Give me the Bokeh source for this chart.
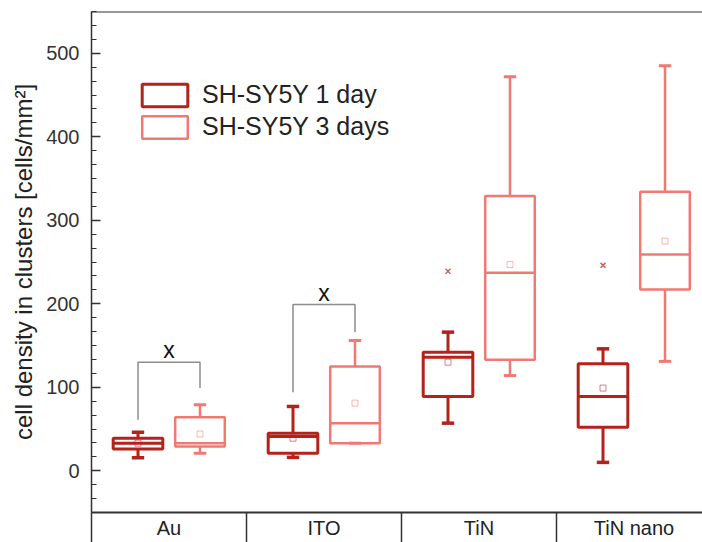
from bokeh.plotting import figure
from bokeh.models import (Range1d, FixedTicker, SingleIntervalTicker, Legend,
                          LegendItem, Span, ColumnDataSource)
from bokeh.embed import file_html
from bokeh.resources import INLINE
from bokeh.core.properties import value

# ---------------- data ----------------
categories = ["Au", "ITO", "TiN", "TiN nano"]

# SH-SY5Y 1 day
d1_low = [15.5, 16, 57, 10]
d1_q1 = [26, 21, 89, 52]
d1_med = [33, 41, 136, 89]
d1_q3 = [39, 45, 142, 128]
d1_high = [46, 77, 166, 146]
d1_mean = [33, 39, 130, 99]
d1_out = [None, None, 239, 246]

# SH-SY5Y 3 days
d3_low = [21, 33, 114, 131]
d3_q1 = [29, 33, 133, 217]
d3_med = [33, 57, 237, 259]
d3_q3 = [64, 125, 329, 334]
d3_high = [79, 156, 472, 485]
d3_mean = [44, 81, 247, 275]

# significance brackets
sig_cats = ["Au", "ITO"]
sig_left_bottom = [61, 94]
sig_right_bottom = [99, 166]
sig_top = [130, 199]
sig_label = ["x", "x"]

series_labels = ["SH-SY5Y 1 day", "SH-SY5Y 3 days"]
y_ticks_interval = 100

# ---------------- style ----------------
DARK = "#b5211b"
LIGHT = "#f07a72"
FONT = "Liberation Sans"
OFF = 0.2
HALF_W = 0.16
CAP = 0.04

centers = [i + 0.5 for i in range(len(categories))]

p = figure(width=702, height=542, output_backend="svg", toolbar_location=None,
           x_range=Range1d(0, 611 / 155), y_range=Range1d(-50, 550),
           min_border_left=91, min_border_right=0, min_border_top=11,
           min_border_bottom=30)
p.outline_line_color = None
p.grid.visible = False
p.background_fill_color = "white"
p.border_fill_color = "white"


def draw_series(low, q1, med, q3, high, mean, shift, color, lw):
    xs = [c + shift for c in centers]
    src = ColumnDataSource(dict(
        x=xs, left=[x - HALF_W for x in xs], right=[x + HALF_W for x in xs],
        low=low, q1=q1, med=med, q3=q3, high=high, mean=mean,
        cl=[x - CAP for x in xs], cr=[x + CAP for x in xs]))
    box = p.quad(left="left", right="right", bottom="q1", top="q3", source=src,
                 fill_alpha=0, line_color=color, line_width=lw)
    p.segment(x0="left", x1="right", y0="med", y1="med", source=src,
              line_color=color, line_width=lw)
    p.segment(x0="x", x1="x", y0="q3", y1="high", source=src,
              line_color=color, line_width=lw)
    p.segment(x0="x", x1="x", y0="q1", y1="low", source=src,
              line_color=color, line_width=lw)
    p.segment(x0="cl", x1="cr", y0="high", y1="high", source=src,
              line_color=color, line_width=lw + 0.5)
    p.segment(x0="cl", x1="cr", y0="low", y1="low", source=src,
              line_color=color, line_width=lw + 0.5)
    p.scatter(x="x", y="mean", source=src, marker="square", size=6,
              fill_alpha=0, line_color=color, line_alpha=0.55, line_width=1)
    return box, xs


box1, xs1 = draw_series(d1_low, d1_q1, d1_med, d1_q3, d1_high, d1_mean,
                        -OFF, DARK, 3)
box3, xs3 = draw_series(d3_low, d3_q1, d3_med, d3_q3, d3_high, d3_mean,
                        OFF, LIGHT, 2.5)

# outliers
ox = [x for x, o in zip(xs1, d1_out) if o is not None]
oy = [o for o in d1_out if o is not None]
p.scatter(ox, oy, marker="x", size=7, line_color=DARK, line_alpha=0.7,
          line_width=1.5)

# significance brackets
bxs, bys, tx = [], [], []
for cat, lb, rb, top in zip(sig_cats, sig_left_bottom, sig_right_bottom, sig_top):
    c = centers[categories.index(cat)]
    bxs.append([c - OFF, c - OFF, c + OFF, c + OFF])
    bys.append([lb, top, top, rb])
    tx.append(c)
p.multi_line(bxs, bys, line_color="#8c8c8c", line_width=1.5)
p.text(x=tx, y=sig_top, text=sig_label, text_font=value(FONT),
       text_font_size="23px", text_align="center", text_baseline="middle",
       y_offset=-12, text_color="#111111")

# top border
p.add_layout(Span(location=550, dimension="width", line_color="#333333",
                  line_width=2))

# y axis
ya = p.yaxis[0]
ya.ticker = SingleIntervalTicker(interval=y_ticks_interval, num_minor_ticks=6)
ya.major_tick_in = 9
ya.major_tick_out = 0
ya.minor_tick_in = 5
ya.minor_tick_out = 0
ya.major_label_standoff = 12
ya.axis_line_width = 1.5
ya.axis_line_color = "#333333"
ya.major_tick_line_color = "#333333"
ya.minor_tick_line_color = "#333333"
ya.major_tick_line_width = 1.5
ya.major_label_text_font = FONT
ya.major_label_text_font_size = "20px"
ya.major_label_text_color = "#333333"
ya.axis_label = "cell density in clusters [cells/mm²]"
ya.axis_label_text_font = FONT
ya.axis_label_text_font_size = "24px"
ya.axis_label_text_font_style = "normal"
ya.axis_label_text_color = "#222222"
ya.axis_label_standoff = 6

# x axis (category table)
xa = p.xaxis[0]
xa.ticker = FixedTicker(ticks=centers, minor_ticks=[0, 1, 2, 3, 4])
xa.major_label_overrides = {c: name for c, name in zip(centers, categories)}
xa.major_tick_in = 0
xa.major_tick_out = 0
xa.minor_tick_in = 0
xa.minor_tick_out = 30
xa.minor_tick_line_width = 1.5
xa.minor_tick_line_color = "#333333"
xa.axis_line_width = 2
xa.axis_line_color = "#333333"
xa.major_label_standoff = -26
xa.major_label_text_font = FONT
xa.major_label_text_font_size = "20px"
xa.major_label_text_color = "#222222"

# legend
legend = Legend(items=[LegendItem(label=series_labels[0], renderers=[box1]),
                       LegendItem(label=series_labels[1], renderers=[box3])],
                location=(45, 371), glyph_width=57, glyph_height=28,
                label_height=28, label_standoff=9, spacing=3, padding=0,
                margin=0, border_line_color=None, background_fill_alpha=0,
                label_text_font=FONT, label_text_font_size="25px",
                label_text_color="#222222")
p.add_layout(legend)

open("out.html", "w").write(file_html(p, INLINE))
